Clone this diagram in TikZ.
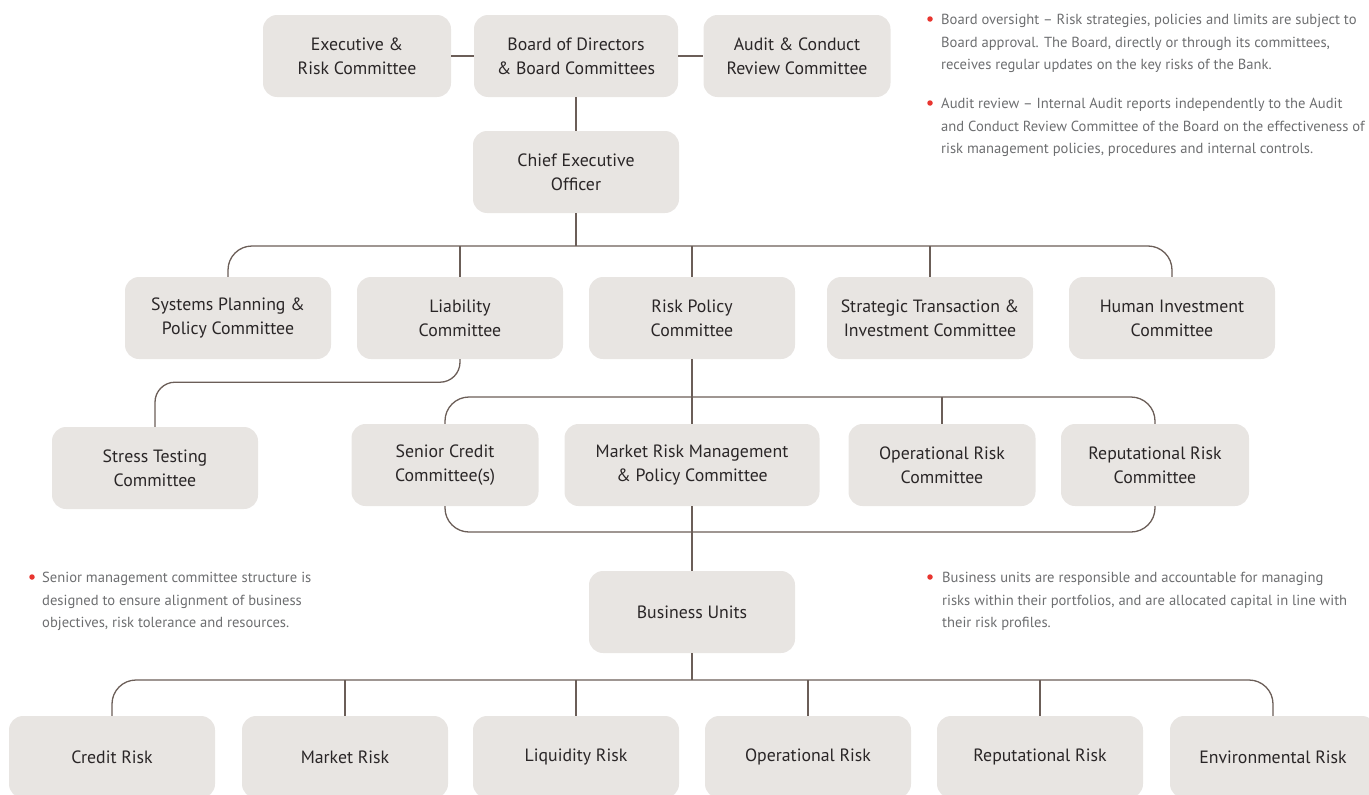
\documentclass[tikz,border=0pt]{standalone}
\usepackage{fontspec}
\setmainfont{PT Sans}
\definecolor{rmbox}{HTML}{E8E5E2}
\definecolor{rmline}{HTML}{6B5E58}
\definecolor{rmtext}{HTML}{2A2627}
\definecolor{rmnote}{HTML}{6D6E70}
\definecolor{rmred}{HTML}{E8352F}
\usetikzlibrary{positioning,calc}
\begin{document}
\begin{tikzpicture}[x=1pt,y=-1pt,
  box/.style={fill=rmbox,rounded corners=14pt,text=rmtext,font=\fontsize{17.8}{24}\selectfont,minimum width=206pt,minimum height=82pt,align=center,inner sep=0pt},
  link/.style={draw=rmline,line width=1.3pt},
  bus/.style={link,rounded corners=24pt},
  note/.style={text=rmnote,font=\fontsize{14.6}{22.5}\selectfont,align=left,anchor=north west,inner sep=0pt},
  dot/.style={circle,fill=rmred,inner sep=0pt,minimum size=5.5pt}]
  \useasboundingbox (0,0) rectangle (1369,795);
  \node[box,minimum width=188pt] (exe) at (357,56) {Executive \&\\Risk Committee};
  \node[box,minimum width=204pt] (brd) at (576,56) {Board of Directors\\\& Board Committees};
  \node[box,minimum width=187pt] (aud) at (797,56) {Audit \& Conduct\\Review Committee};
  \node[box] (ceo) at (576,172) {Chief Executive\\Officer};
  \node[box] (sys) at (228,318) {Systems Planning \&\\Policy Committee};
  \node[box] (lia) at (460,318) {Liability\\Committee};
  \node[box] (rpc) at (692,318) {Risk Policy\\Committee};
  \node[box] (sti) at (930,318) {Strategic Transaction \&\\Investment Committee};
  \node[box] (hic) at (1172,318) {Human Investment\\Committee};
  \node[box] (stc) at (155,468) {Stress Testing\\Committee};
  \node[box,minimum width=187pt] (scc) at (445,465) {Senior Credit\\Committee(s)};
  \node[box,minimum width=255pt] (mrm) at (692,465) {Market Risk Management\\\& Policy Committee};
  \node[box,minimum width=187pt] (orc) at (942,465) {Operational Risk\\Committee};
  \node[box,minimum width=188pt] (rrc) at (1155,465) {Reputational Risk\\Committee};
  \node[box] (bu) at (692,612) {Business Units};
  \node[box] (crk) at (112,757) {Credit Risk};
  \node[box] (mkr) at (345,757) {Market Risk};
  \node[box] (lqr) at (576,757) {Liquidity Risk};
  \node[box] (opr) at (808,757) {Operational Risk};
  \node[box] (rpr) at (1040,757) {Reputational Risk};
  \node[box] (env) at (1273,757) {Environmental Risk};

  \coordinate (b1) at (576,246);
  \coordinate (b3t) at (692,397);
  \coordinate (b3b) at (692,532);
  \coordinate (b4) at (692,680);

  \draw[link] (exe) -- (brd);
  \draw[link] (brd) -- (aud);
  \draw[link] (brd.south) -- (ceo.north);
  \draw[link] (ceo.south) -- (b1);
  \draw[bus] (sys.north) |- (b1) -| (hic.north);
  \foreach \n in {lia,rpc,sti}
    \draw[link] (\n.north) -- (\n.north |- b1);
  \draw[link,rounded corners=20pt] (lia.south) -- ++(0,23) -| (stc.north);
  \draw[bus] (scc.north) |- (b3t) -| (rrc.north);
  \draw[bus] (scc.south) |- (b3b) -| (rrc.south);
  \draw[link] (orc.north) -- (orc.north |- b3t);
  \draw[link] (rpc.south) -- (mrm.north);
  \draw[link] (mrm.south) -- (bu.north);
  \draw[link] (bu.south) -- (b4);
  \draw[bus] (crk.north) |- (b4) -| (env.north);
  \foreach \n in {mkr,lqr,opr,rpr}
    \draw[link] (\n.north) -- (\n.north |- b4);

  \node[dot] (d1) at (930,19) {};
  \node[note] (n1) at (941,14) {Board oversight – Risk strategies, policies and limits are subject to\\Board approval. The Board, directly or through its committees,\\receives regular updates on the key risks of the Bank.};
  \node[dot] (d2) at (930,103) {};
  \node[note] (n2) at (941,98) {Audit review – Internal Audit reports independently to the Audit\\and Conduct Review Committee of the Board on the effectiveness of\\risk management policies, procedures and internal controls.};
  \node[dot] (d3) at (32,577) {};
  \node[note] (n3) at (42,572) {Senior management committee structure is\\designed to ensure alignment of business\\objectives, risk tolerance and resources.};
  \node[dot] (d4) at (930,577) {};
  \node[note] (n4) at (942,572) {Business units are responsible and accountable for managing\\risks within their portfolios, and are allocated capital in line with\\their risk profiles.};
\end{tikzpicture}
\end{document}
